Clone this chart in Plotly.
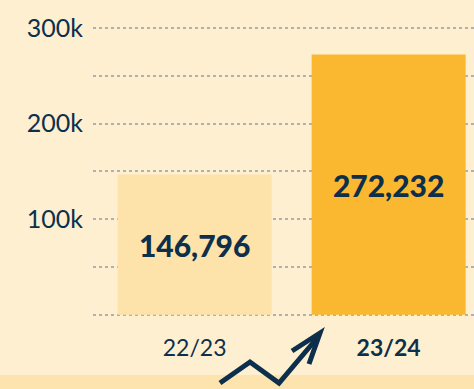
import plotly.graph_objects as go

# Data
seasons = ["22/23", "23/24"]
season_labels = ["22/23", "<b>23/24</b>"]
visitors = [146796, 272232]
bar_colors = ["#FDE2AA", "#FAB830"]
y_ticks = [0, 50000, 100000, 150000, 200000, 250000, 300000]
y_tick_labels = ["", "", "100k", "", "200k", "", "300k"]

W, H = 474, 389
ML, MB = 93, 73
PLOT_W, PLOT_H = W - ML, H - MB

NAVY = "#0E2F4C"
BG = "#FEEFD0"


def px_to_paper(x, y):
    return (x - ML) / PLOT_W, (PLOT_H - y) / PLOT_H


fig = go.Figure(
    go.Bar(
        x=seasons,
        y=visitors,
        marker=dict(color=bar_colors, line=dict(width=0)),
        width=0.794,
        text=[f"{v:,}" for v in visitors],
        textposition="inside",
        insidetextanchor="middle",
        textangle=0,
        textfont=dict(family="Lato", size=30, color=NAVY, weight=900),
        hoverinfo="skip",
    )
)

# light band along the bottom edge
x0, y0 = px_to_paper(0, 375)
x1, y1 = px_to_paper(W, H + 2)
fig.add_shape(
    type="rect", xref="paper", yref="paper",
    x0=x0, x1=x1, y0=y0, y1=y1,
    fillcolor="#FDE4AE", line=dict(width=0), layer="below",
)

# rising zig-zag arrow
zig = [(220, 383), (250, 362), (279, 383), (318, 337)]
head = [(292, 351), (320, 333), (309, 364)]


def path_of(points):
    parts = []
    for i, (px, py) in enumerate(points):
        u, v = px_to_paper(px, py)
        parts.append(("M" if i == 0 else "L") + f"{u:.5f},{v:.5f}")
    return " ".join(parts)


for pts in (zig, head):
    fig.add_shape(
        type="path", xref="paper", yref="paper",
        path=path_of(pts),
        line=dict(color=NAVY, width=5),
        layer="above",
    )

fig.update_layout(
    width=W,
    height=H,
    margin=dict(l=ML, r=0, t=0, b=MB, pad=0),
    paper_bgcolor=BG,
    plot_bgcolor=BG,
    showlegend=False,
    xaxis=dict(
        range=[-0.524, 1.44],
        tickvals=seasons,
        ticktext=season_labels,
        tickfont=dict(family="Lato", size=23, color=NAVY),
        showgrid=False,
        zeroline=False,
        showline=False,
        ticks="",
        ticklabelstandoff=16,
    ),
    yaxis=dict(
        range=[-1200, 329300],
        tickvals=y_ticks,
        ticktext=y_tick_labels,
        tickfont=dict(family="Lato", size=25, color=NAVY),
        showgrid=True,
        gridcolor="#B0B0B0",
        gridwidth=1.5,
        griddash="dot",
        zeroline=False,
        showline=False,
        ticks="",
        ticklabelstandoff=9,
    ),
)

fig.write_html("out.html")
